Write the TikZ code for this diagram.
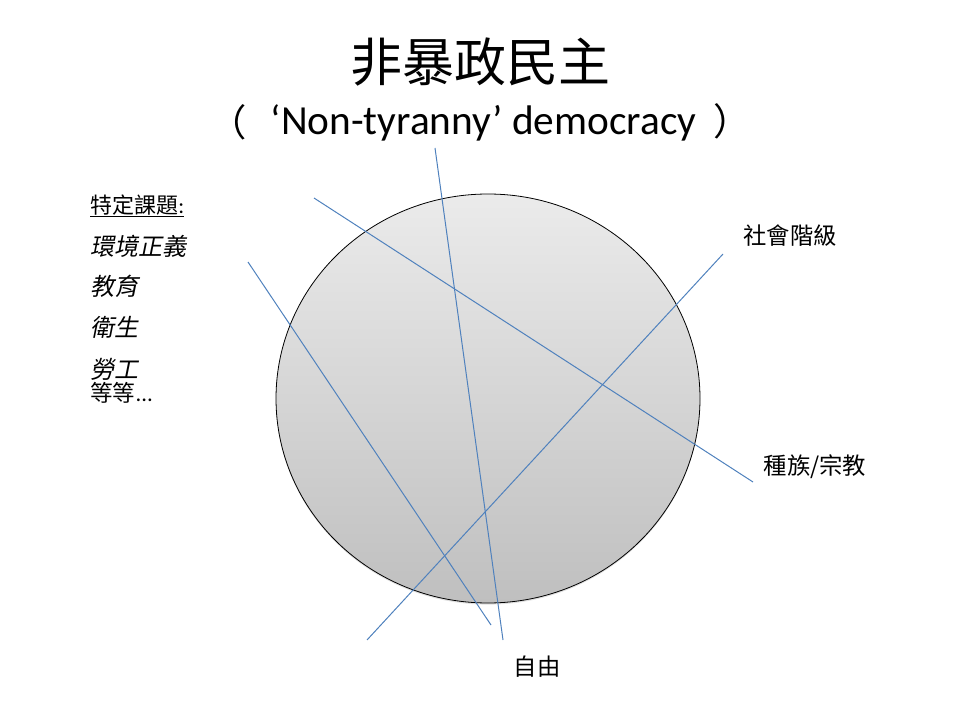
\documentclass[tikz,border=0pt]{standalone}
\usepackage{fontspec}
\setmainfont{Carlito}
\newfontfamily\cjk{Noto Sans CJK TC}
\newfontfamily\cjkit[FakeSlant=0.2]{Noto Sans CJK TC}
\usetikzlibrary{positioning,shapes.geometric,shadows}
\definecolor{lineblue}{HTML}{4F81BD}
\definecolor{disktop}{HTML}{EBEBEB}
\definecolor{diskbot}{HTML}{BFBFBF}

\begin{document}
\begin{tikzpicture}[x=0.75pt, y=-0.75pt, every node/.style={inner sep=0pt}]
\tikzset{cut/.style={draw=lineblue, line width=0.75pt}}
\tikzset{tag/.style={font=\cjk\fontsize{17.5}{21}\selectfont}}
\tikzset{item/.style={anchor=west, font=\cjkit\fontsize{18}{22}\selectfont}}
\tikzset{paren/.style={font=\cjk\fontsize{28}{33}\selectfont}}
\useasboundingbox (0,0) rectangle (960,720);
% title
\node[font=\cjk\fontsize{39}{46}\selectfont] (title) at (480,62) {非暴政民主};
\node[anchor=base, font=\fontsize{31}{37}\selectfont] (subtitle) at (483.5,135)
  {‘Non-tyranny’ democracy};
\node[paren, anchor=east] (lparen) at (247,122) {（};
\node[paren, anchor=west] (rparen) at (713,121) {）};
% the society
\node[draw, line width=0.6pt, ellipse, minimum width=318pt, minimum height=306.75pt,
  top color=disktop, bottom color=diskbot,
  drop shadow={opacity=0.25, shadow xshift=0pt, shadow yshift=-1.2pt}] (disk) at (488,398.5) {};
% cleavages
\coordinate (a1) at (435,148);
\coordinate (a2) at (503,640);
\coordinate (b1) at (314,198);
\coordinate (b2) at (753,482);
\coordinate (c1) at (248,262);
\coordinate (c2) at (491,625);
\coordinate (d1) at (723,254);
\coordinate (d2) at (367,640);
\draw[cut] (a1) -- (a2);
\draw[cut] (b1) -- (b2);
\draw[cut] (c1) -- (c2);
\draw[cut] (d1) -- (d2);
\node[tag] (class) at (790,236) {社會階級};
\node[tag] (race) at (815,467) {種族/宗教};
\node[tag] (freedom) at (537,667) {自由};
% issues
\node[anchor=west, font=\cjk\fontsize{16.5}{20}\selectfont] (topics) at (90,206) {\underline{特定課題{\normalfont :}}};
\node[item] (env) at (90,246) {環境正義};
\node[item] (edu) at (90,286) {教育};
\node[item] (health) at (90,327) {衛生};
\node[item] (labour) at (90,369) {勞工};
\node[anchor=west, font=\cjk\fontsize{17}{20}\selectfont] (etc) at (90,393) {等等{\normalfont ...}};
\end{tikzpicture}
\end{document}
